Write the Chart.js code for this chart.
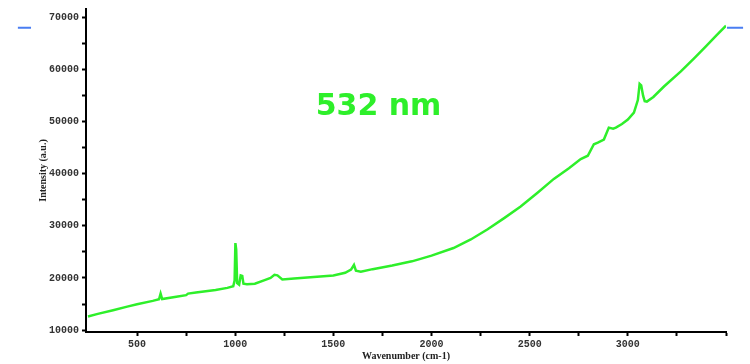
<!DOCTYPE html>
<html>
<head>
<meta charset="utf-8">
<script src="https://cdn.jsdelivr.net/npm/chart.js@4.4.1/dist/chart.umd.min.js"></script>
<style>
  html, body { margin: 0; padding: 0; background: #ffffff; }
  #wrap { width: 750px; height: 364px; position: relative; }
</style>
</head>
<body>
<div id="wrap"><canvas id="c" width="750" height="364"></canvas></div>
<script>
// ---- data ----
const wavenumber = [250, 300, 378, 450, 500, 580, 612, 620, 628, 700, 750, 760, 800, 900, 960, 990, 997, 1001, 1005, 1010, 1020, 1028, 1036, 1042, 1060, 1100, 1150, 1180, 1200, 1215, 1240, 1300, 1400, 1500, 1560, 1590, 1605, 1615, 1640, 1700, 1800, 1900, 1944, 2000, 2112, 2200, 2286, 2370, 2454, 2540, 2623, 2700, 2760, 2796, 2827, 2847, 2878, 2903, 2925, 2939, 2970, 3000, 3031, 3051, 3060, 3068, 3078, 3086, 3097, 3130, 3184, 3270, 3340, 3400, 3450, 3500];
const intensity  = [12600, 13100, 13800, 14500, 14950, 15600, 15900, 17000, 15950, 16400, 16700, 17000, 17200, 17700, 18100, 18400, 19500, 26700, 25500, 19000, 18700, 20500, 20400, 18900, 18800, 18900, 19600, 20000, 20600, 20500, 19700, 19900, 20200, 20500, 21000, 21600, 22500, 21400, 21200, 21700, 22400, 23200, 23670, 24300, 25760, 27400, 29370, 31500, 33730, 36400, 39050, 41100, 42850, 43500, 45700, 46000, 46600, 48900, 48700, 48900, 49600, 50440, 51800, 54200, 57300, 57000, 55000, 54000, 53900, 54800, 56800, 59700, 62300, 64600, 66600, 68500];

const xTickValues = [500, 750, 1000, 1250, 1500, 1750, 2000, 2250, 2500, 2750, 3000, 3250, 3500];
const xTickLabels = ['500', '', '1000', '', '1500', '', '2000', '', '2500', '', '3000', '', ''];
const yTickValues = [10000, 15000, 20000, 25000, 30000, 35000, 40000, 45000, 50000, 55000, 60000, 65000, 70000];
const yTickLabels = ['10000', '', '20000', '', '30000', '', '40000', '', '50000', '', '60000', '', '70000'];

// small blue dashes outside the frame (left and right)
const markerX = [-107, -40, null, 3505, 3587];
const markerY = [68100, 68100, null, 68100, 68100];

const chartLabel = '532 nm';
const chartLabelAt = { x: 1730, y: 52900 };

const xTitle = 'Wavenumber (cm-1)';
const yTitle = 'Intensity (a.u.)';

// ---- build ----
const lineColor = '#2eef2a';
const tickFont = { family: "'Liberation Mono', 'DejaVu Sans Mono', monospace", size: 10, weight: 'bold' };
const titleFont = { family: "'Liberation Serif', 'DejaVu Serif', serif", size: 10, weight: 'bold' };

const spectrum = wavenumber.map((w, i) => ({ x: w, y: intensity[i] }));
const markers = markerX.map((x, i) => (x === null ? { x: null, y: null } : { x: x, y: markerY[i] }));

const labelPlugin = {
  id: 'labelPlugin',
  afterDatasetsDraw(chart) {
    const { ctx, scales } = chart;
    const px = scales.x.getPixelForValue(chartLabelAt.x);
    const py = scales.y.getPixelForValue(chartLabelAt.y);
    ctx.save();
    ctx.font = "bold 30px 'DejaVu Sans', 'Liberation Sans', Arial, sans-serif";
    ctx.fillStyle = lineColor;
    ctx.textAlign = 'center';
    ctx.textBaseline = 'middle';
    ctx.fillText(chartLabel, px, py);
    ctx.restore();
  }
};

new Chart(document.getElementById('c'), {
  type: 'line',
  data: {
    datasets: [
      {
        data: spectrum,
        borderColor: lineColor,
        borderWidth: 2.5,
        pointRadius: 0,
        tension: 0,
        fill: false
      },
      {
        data: markers,
        borderColor: '#4a7ef2',
        borderWidth: 2,
        pointRadius: 0,
        spanGaps: false,
        clip: false
      }
    ]
  },
  options: {
    responsive: false,
    animation: false,
    parsing: true,
    layout: { padding: { top: 5, right: 24, left: 0, bottom: 0 } },
    plugins: {
      legend: { display: false },
      tooltip: { enabled: false },
      title: { display: false }
    },
    scales: {
      x: {
        type: 'linear',
        min: 240,
        max: 3500,
        afterBuildTicks(scale) { scale.ticks = xTickValues.map(v => ({ value: v })); },
        afterFit(scale) { scale.height = 32; },
        ticks: {
          autoSkip: false,
          maxRotation: 0,
          padding: 2,
          color: '#333333',
          font: tickFont,
          callback(value) {
            const i = xTickValues.indexOf(value);
            return i >= 0 ? xTickLabels[i] : '';
          }
        },
        grid: {
          drawOnChartArea: false,
          drawTicks: true,
          tickLength: 4,
          tickWidth: 2,
          tickColor: '#000000'
        },
        border: { display: true, color: '#000000', width: 2 },
        title: {
          display: true,
          text: xTitle,
          color: '#222222',
          font: titleFont,
          padding: { top: 0, bottom: 2 }
        }
      },
      y: {
        type: 'linear',
        min: 9620,
        max: 71700,
        afterBuildTicks(scale) { scale.ticks = yTickValues.map(v => ({ value: v })); },
        afterFit(scale) { scale.width = 86; },
        ticks: {
          autoSkip: false,
          padding: 3,
          color: '#333333',
          font: tickFont,
          callback(value) {
            const i = yTickValues.indexOf(value);
            return i >= 0 ? yTickLabels[i] : '';
          }
        },
        grid: {
          drawOnChartArea: false,
          drawTicks: true,
          tickLength: 4,
          tickWidth: 2,
          tickColor: '#000000'
        },
        border: { display: true, color: '#000000', width: 2 },
        title: {
          display: true,
          text: yTitle,
          color: '#222222',
          font: titleFont,
          padding: { top: 37, bottom: 0 }
        }
      }
    }
  },
  plugins: [labelPlugin]
});
</script>
</body>
</html>
